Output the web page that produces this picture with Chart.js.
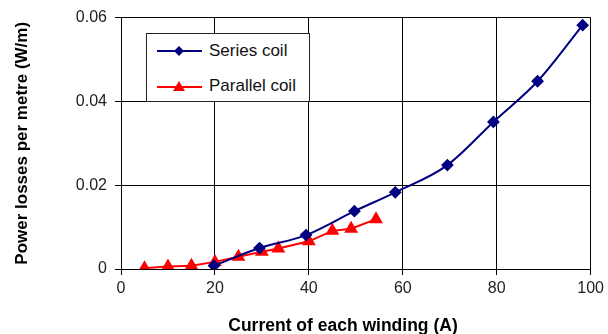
<!DOCTYPE html>
<html>
<head>
<meta charset="utf-8">
<script src="https://cdn.jsdelivr.net/npm/chart.js@4"></script>
<style>
  body { margin: 0; background: #fff; }
  #wrap { position: relative; width: 608px; height: 334px; }
  #legendBox {
    position: absolute; left: 146px; top: 33px; width: 162px; height: 67px;
    border: 1px solid #222; background: #fff;
    font-family: "Liberation Sans", Arial, sans-serif; font-size: 17px; color: #111;
  }
  .row { position: absolute; left: 10px; height: 20px; display: flex; align-items: center; white-space: nowrap; }
  .row svg { margin-right: 6px; }
  #xTitle {
    position: absolute; left: 143px; width: 400px; top: 315px; text-align: center;
    font-family: "Liberation Sans", Arial, sans-serif; font-size: 17.5px; font-weight: bold; color: #000;
    line-height: 20px;
  }
</style>
</head>
<body>
<div id="wrap">
  <canvas id="lossChart" width="608" height="334"></canvas>
  <div id="legendBox">
    <div class="row" style="top:7px">
      <svg width="46" height="14"><line x1="0" y1="7" x2="45" y2="7" stroke="#000080" stroke-width="2"/><polygon points="22,2 27,7 22,12 17,7" fill="#000080"/></svg>Series coil
    </div>
    <div class="row" style="top:42px">
      <svg width="46" height="14"><line x1="0" y1="8" x2="45" y2="8" stroke="#ff0000" stroke-width="2"/><polygon points="22,2 28,12 16,12" fill="#ff0000"/></svg>Parallel coil
    </div>
  </div>
  <div id="xTitle">Current of each winding (A)</div>
</div>
<script>
// series coil
const seriesX = [19.8, 29.5, 39.4, 49.7, 58.4, 69.5, 79.3, 88.7, 98.3];
const seriesY = [0.0008, 0.005, 0.0081, 0.0138, 0.0183, 0.0248, 0.0351, 0.0448, 0.0582];
// parallel coil
const parallelX = [5, 10, 15, 20, 25, 30, 33.5, 40, 45, 49, 54.3];
const parallelY = [0.0002, 0.0006, 0.0008, 0.0017, 0.0029, 0.0041, 0.0049, 0.0066, 0.0091, 0.0096, 0.0119];

const xTicks = [0, 20, 40, 60, 80, 100];
const yTicks = [0, 0.02, 0.04, 0.06];

function toPoints(xs, ys) {
  return xs.map((x, i) => ({ x: x, y: ys[i] }));
}

const ctx = document.getElementById("lossChart").getContext("2d");

new Chart(ctx, {
  type: "line",
  data: {
    datasets: [
      {
        label: "Series coil",
        data: toPoints(seriesX, seriesY),
        borderColor: "#000080",
        backgroundColor: "#000080",
        borderWidth: 2,
        pointStyle: "rectRot",
        pointRadius: 5,
        cubicInterpolationMode: "monotone",
      },
      {
        label: "Parallel coil",
        data: toPoints(parallelX, parallelY),
        borderColor: "#ff0000",
        backgroundColor: "#ff0000",
        borderWidth: 2,
        pointStyle: "triangle",
        pointRadius: 6,
        tension: 0,
      },
    ],
  },
  options: {
    responsive: false,
    animation: false,
    layout: { padding: { left: 0, top: 16, right: 16, bottom: 0 } },
    plugins: {
      legend: { display: false },
      tooltip: { enabled: false },
    },
    scales: {
      x: {
        type: "linear",
        min: 0,
        max: 100,
        afterBuildTicks: (axis) => { axis.ticks = xTicks.map(v => ({ value: v })); },
        afterFit: (axis) => { axis.height = 65; },
        grid: { color: "#000", lineWidth: 1, tickLength: 6 },
        border: { color: "#000" },
        ticks: {
          color: "#222",
          font: { family: "Liberation Sans", size: 16 },
          padding: 4,
        },
        // axis title is the #xTitle div (it sits left of centre in the original)
        title: { display: false },
      },
      y: {
        min: 0,
        max: 0.06,
        afterBuildTicks: (axis) => { axis.ticks = yTicks.map(v => ({ value: v })); },
        afterFit: (axis) => { axis.width = 121; },
        grid: { color: "#000", lineWidth: 1, tickLength: 6 },
        border: { color: "#000" },
        ticks: {
          color: "#222",
          font: { family: "Liberation Sans", size: 16 },
          padding: 8,
        },
        title: {
          display: true,
          text: "Power losses per metre (W/m)",
          color: "#000",
          font: { family: "Liberation Sans", size: 17, weight: "bold" },
          padding: { bottom: 0, top: 12 },
        },
      },
    },
  },
});
</script>
</body>
</html>
